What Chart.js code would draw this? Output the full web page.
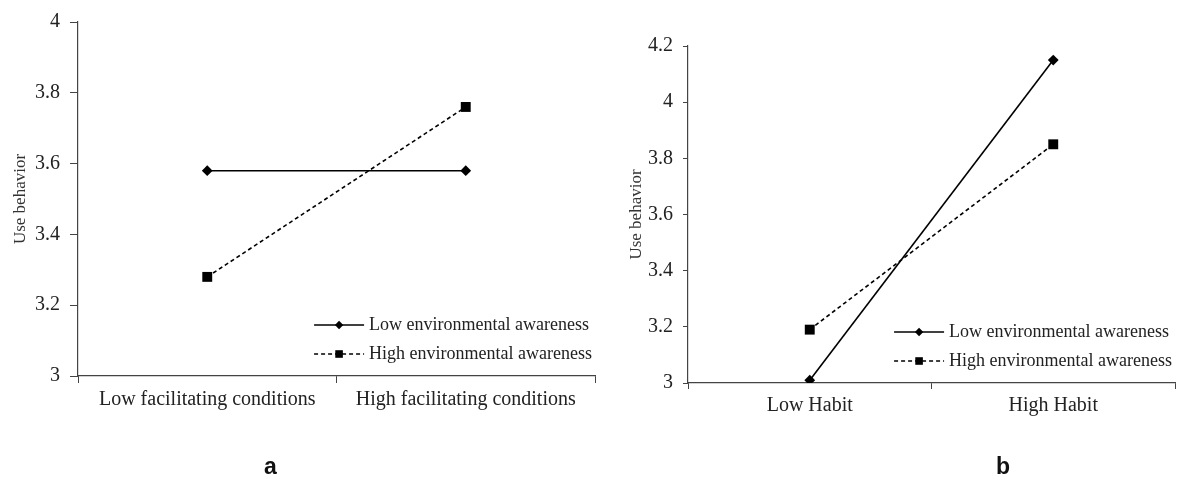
<!DOCTYPE html>
<html>
<head>
<meta charset="utf-8">
<script src="https://cdn.jsdelivr.net/npm/chart.js@4.4.0/dist/chart.umd.min.js"></script>
<style>
  html, body { margin: 0; padding: 0; background: #fff; overflow: hidden; }
  body { width: 1178px; height: 479px; position: relative; }
  .panel { position: absolute; top: 0; height: 479px; }
  #panelA { left: 0; width: 602px; }
  #panelB { left: 600px; width: 582px; }
  .tag { position: absolute; top: 453px; line-height: 1; font: bold 23px "Liberation Sans", Arial, sans-serif; color: #111; }
</style>
</head>
<body>
<div class="panel" id="panelA"><canvas data-chart-a></canvas></div>
<div class="panel" id="panelB"><canvas data-chart-b></canvas></div>
<div class="tag" style="left:264px">a</div>
<div class="tag" style="left:996px">b</div>
<script>
const seriesNames = ['Low environmental awareness', 'High environmental awareness'];

const facilitatingLabels = ['Low facilitating conditions', 'High facilitating conditions'];
const facilitatingLow = [3.58, 3.58];
const facilitatingHigh = [3.28, 3.76];
const facilitatingTicks = [3, 3.2, 3.4, 3.6, 3.8, 4];

const habitLabels = ['Low Habit', 'High Habit'];
const habitLow = [3.01, 4.15];
const habitHigh = [3.19, 3.85];
const habitTicks = [3, 3.2, 3.4, 3.6, 3.8, 4, 4.2];

const serif = '"Liberation Serif", "Times New Roman", serif';
Chart.defaults.font.family = serif;
Chart.defaults.color = '#222';

// legend drawn inside the plot, bottom right, with the line sample + marker
const insideLegend = {
    id: 'insideLegend',
    afterDatasetsDraw(chart, args, opts) {
        const ctx = chart.ctx;
        const area = chart.chartArea;
        const items = chart.data.datasets;
        ctx.save();
        ctx.font = opts.size + 'px ' + serif;
        const widest = Math.max(...items.map(d => ctx.measureText(d.label).width));
        const textX = area.right - opts.rightGap - widest;
        const lineX = textX - opts.gap - opts.sampleLength;
        items.forEach((ds, i) => {
            const y = area.bottom - opts.bottomGap - (items.length - 1 - i) * opts.rowHeight;
            ctx.strokeStyle = ds.borderColor;
            ctx.lineWidth = ds.borderWidth;
            ctx.setLineDash(ds.borderDash || []);
            ctx.beginPath();
            ctx.moveTo(lineX, y);
            ctx.lineTo(lineX + opts.sampleLength, y);
            ctx.stroke();
            ctx.setLineDash([]);

            const cx = lineX + opts.sampleLength / 2;
            ctx.fillStyle = ds.pointBackgroundColor;
            ctx.beginPath();
            if (ds.pointStyle === 'rectRot') {
                const r = opts.diamond;
                ctx.moveTo(cx - r, y);
                ctx.lineTo(cx, y - r);
                ctx.lineTo(cx + r, y);
                ctx.lineTo(cx, y + r);
                ctx.closePath();
            } else {
                const s = opts.square;
                ctx.rect(cx - s, y - s, 2 * s, 2 * s);
            }
            ctx.fill();

            ctx.fillStyle = '#222';
            ctx.textBaseline = 'middle';
            ctx.textAlign = 'left';
            ctx.fillText(ds.label, textX, y);
        });
        ctx.restore();
    }
};

function lineSeries(label, values, dashed) {
    return {
        label: label,
        data: values,
        borderColor: '#000',
        borderWidth: 1.6,
        borderDash: dashed ? [4, 3] : [],
        pointStyle: dashed ? 'rect' : 'rectRot',
        pointRadius: dashed ? 7 : 5.4,
        pointBackgroundColor: '#000',
        pointBorderWidth: 0,
        fill: false,
        tension: 0
    };
}

function interactionChart(canvas, labels, low, high, ticks, box) {
    const canvasH = 479;
    return new Chart(canvas, {
        type: 'line',
        data: {
            labels: labels,
            datasets: [
                lineSeries(seriesNames[0], low, false),
                lineSeries(seriesNames[1], high, true)
            ]
        },
        plugins: [insideLegend],
        options: {
            responsive: true,
            maintainAspectRatio: false,
            animation: false,
            layout: {
                padding: { left: 2, right: box.padRight, top: box.top, bottom: 0 }
            },
            plugins: {
                legend: { display: false },
                tooltip: { enabled: false },
                insideLegend: {
                    size: 18,
                    sampleLength: 50,
                    gap: 5,
                    rightGap: 3,
                    bottomGap: 22,
                    rowHeight: 29,
                    diamond: 4.2,
                    square: 3.8
                }
            },
            scales: {
                x: {
                    type: 'category',
                    offset: true,
                    grid: {
                        offset: true,
                        drawOnChartArea: false,
                        drawTicks: true,
                        tickLength: box.xTick,
                        color: '#444',
                        lineWidth: 1
                    },
                    border: { display: true, color: '#444', width: 1.2 },
                    ticks: {
                        font: { size: 20 },
                        color: '#222',
                        padding: 5,
                        maxRotation: 0,
                        autoSkip: false
                    },
                    afterFit(scale) {
                        scale.height = canvasH - box.bottom;
                    }
                },
                y: {
                    min: ticks[0],
                    max: ticks[ticks.length - 1],
                    afterBuildTicks(scale) {
                        scale.ticks = ticks.map(v => ({ value: v }));
                    },
                    grid: {
                        drawOnChartArea: false,
                        drawTicks: true,
                        tickLength: box.yTick,
                        color: '#444',
                        lineWidth: 1
                    },
                    border: { display: true, color: '#444', width: 1.2 },
                    ticks: {
                        font: { size: 20 },
                        color: '#222',
                        padding: 10,
                        callback: v => String(v)
                    },
                    title: {
                        display: true,
                        text: 'Use behavior',
                        font: { size: 17 },
                        color: '#333',
                        padding: { top: box.titlePad, bottom: 0 }
                    },
                    afterFit(scale) {
                        scale.width = box.left - 2;
                    }
                }
            }
        }
    });
}

interactionChart(document.querySelector('[data-chart-a]'),
    facilitatingLabels, facilitatingLow, facilitatingHigh, facilitatingTicks,
    { left: 78, top: 17, bottom: 376, padRight: 2, xTick: 7, yTick: 8, titlePad: 8 });

interactionChart(document.querySelector('[data-chart-b]'),
    habitLabels, habitLow, habitHigh, habitTicks,
    { left: 88, top: 46, bottom: 383, padRight: 2, xTick: 6, yTick: 5, titlePad: 24 });
</script>
</body>
</html>
